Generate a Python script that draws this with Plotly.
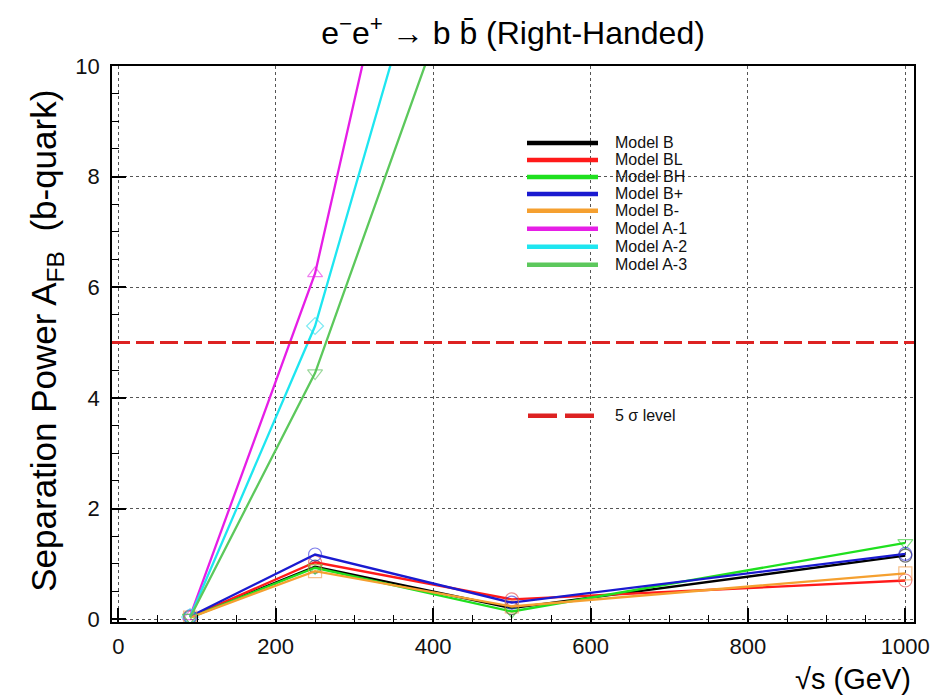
import plotly.graph_objects as go

# ---------------- data ----------------
sqrt_s = [91.2, 250, 500, 1000]

model_names = ["Model B", "Model BL", "Model BH", "Model B+", "Model B-",
               "Model A-1", "Model A-2", "Model A-3"]
model_B = [0.04, 0.95, 0.20, 1.15]
model_BL = [0.04, 1.03, 0.36, 0.70]
model_BH = [0.03, 0.93, 0.14, 1.38]
model_Bp = [0.05, 1.17, 0.30, 1.18]
model_Bm = [0.03, 0.87, 0.23, 0.83]
model_A1 = [0.05, 6.25, 21.9, 45.0]
model_A2 = [0.04, 5.30, 17.6, 36.0]
model_A3 = [0.03, 4.45, 14.4, 29.0]
sigma_level = 5

x_ticks = [0, 200, 400, 600, 800, 1000]
y_ticks = [0, 2, 4, 6, 8, 10]

# ---------------- styles ----------------
colors = ["#000000", "#ff1a1a", "#1fe01f", "#1a1ad0", "#f5a030",
          "#e61ee6", "#1ee6f0", "#5cc85c"]
marker_cols = ["rgba(0,0,0,0.55)", "rgba(230,60,60,0.6)", "rgba(40,200,40,0.6)",
               "rgba(40,40,220,0.6)", "rgba(240,150,60,0.6)", "rgba(230,40,230,0.6)",
               "rgba(40,220,235,0.6)", "rgba(90,190,90,0.6)"]
symbols = ["circle-open", "circle-open", "triangle-down-open", "circle-open",
           "square-open", "triangle-up-open", "diamond-open", "triangle-down-open"]
series = [model_B, model_BL, model_BH, model_Bp, model_Bm, model_A1, model_A2, model_A3]

FONT = "Liberation Sans, Arial, Helvetica, sans-serif"

# plot area in pixels
L, R, T, B = 112, 914, 66, 622.5
W, H = 932, 698


def px(xp):
    return (xp - L) / (R - L)


def py(yp):
    return (B - yp) / (B - T)


fig = go.Figure()
for name, vals, c, mc, sym in zip(model_names, series, colors, marker_cols, symbols):
    fig.add_trace(go.Scatter(
        x=sqrt_s, y=vals, mode="lines+markers", name=name,
        line=dict(color=c, width=2.3),
        marker=dict(symbol=sym, size=13, color=mc, line=dict(width=1.2, color=mc)),
        showlegend=False, cliponaxis=True))

shapes = []
annotations = []

# 5 sigma level line
shapes.append(dict(type="line", xref="paper", yref="y", x0=0, x1=1,
                   y0=sigma_level, y1=sigma_level,
                   line=dict(color="#dd2222", width=3, dash="18px,6px")))

# manual legend
legend_y = [143, 160, 177, 194, 211, 229, 247, 265]
for name, c, ly in zip(model_names, colors, legend_y):
    shapes.append(dict(type="line", xref="paper", yref="paper",
                       x0=px(527), x1=px(598), y0=py(ly), y1=py(ly),
                       line=dict(color=c, width=4.5)))
    annotations.append(dict(text=name, xref="paper", yref="paper",
                            x=px(613), y=py(ly), xanchor="left", yanchor="middle",
                            showarrow=False, font=dict(family=FONT, size=16, color="#111")))
shapes.append(dict(type="line", xref="paper", yref="paper",
                   x0=px(528), x1=px(595), y0=py(416), y1=py(416),
                   line=dict(color="#dd2222", width=4.5, dash="29px,8px")))
annotations.append(dict(text="5 σ level", xref="paper", yref="paper",
                        x=px(613), y=py(416), xanchor="left", yanchor="middle",
                        showarrow=False, font=dict(family=FONT, size=16, color="#111")))

# x axis title (right aligned)
annotations.append(dict(text="√s (GeV)", xref="paper", yref="paper",
                        x=px(913), y=py(680), xanchor="right", yanchor="middle",
                        showarrow=False, font=dict(family=FONT, size=29, color="#000")))

# y axis title (rotated)
annotations.append(dict(text="Separation Power A<sub>FB</sub>\u00a0\u00a0(b-quark)",
                        xref="paper", yref="paper", x=px(46), y=py(341),
                        xanchor="center", yanchor="middle", textangle=-90,
                        showarrow=False, font=dict(family=FONT, size=35, color="#000")))

fig.update_layout(
    width=W, height=H,
    margin=dict(l=L, r=W - R, t=T, b=H - B, autoexpand=False),
    paper_bgcolor="white", plot_bgcolor="white",
    font=dict(family=FONT, color="#000"),
    title=dict(text="e<sup>−</sup>e<sup>+</sup> → b b̄ (Right-Handed)",
               x=0.5, xref="paper", y=1 - 33 / H, yanchor="middle",
               font=dict(family=FONT, size=32, color="#000")),
    shapes=shapes, annotations=annotations,
)

fig.update_xaxes(
    range=[-8, 1011], tickvals=x_ticks, ticks="inside", ticklen=14, tickwidth=1.5,
    tickcolor="#000", tickfont=dict(family=FONT, size=22, color="#111"),
    minor=dict(dtick=50, tick0=0, ticks="inside", ticklen=7, tickwidth=1.2, tickcolor="#000"),
    showline=True, linecolor="#000", linewidth=1.8, mirror=True,
    showgrid=True, gridcolor="#555", gridwidth=1.3, griddash="dot",
    zeroline=False, ticklabelstandoff=4, automargin=False)

fig.update_yaxes(
    range=[-0.05, 10], tickvals=y_ticks, ticks="inside", ticklen=14, tickwidth=1.5,
    tickcolor="#000", tickfont=dict(family=FONT, size=22, color="#111"),
    minor=dict(dtick=0.5, tick0=0, ticks="inside", ticklen=7, tickwidth=1.2, tickcolor="#000"),
    showline=True, linecolor="#000", linewidth=1.8, mirror=True,
    showgrid=True, gridcolor="#555", gridwidth=1.3, griddash="dot",
    zeroline=False, ticklabelstandoff=6, automargin=False)

fig.write_html("out.html")
